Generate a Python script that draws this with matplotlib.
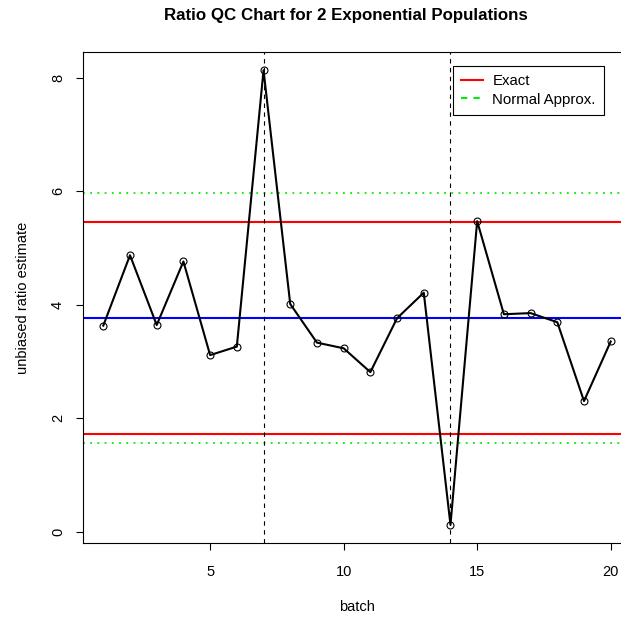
import matplotlib
matplotlib.use("Agg")
import matplotlib.pyplot as plt
from matplotlib.lines import Line2D
import numpy as np

plt.rcParams['font.family'] = ['Liberation Sans', 'DejaVu Sans']

# ratio estimates per batch
batch = np.arange(1, 21)
ratio = [3.63, 4.87, 3.64, 4.76, 3.11, 3.26, 8.13, 4.01, 3.33, 3.23,
         2.81, 3.76, 4.21, 0.12, 5.47, 3.83, 3.85, 3.69, 2.30, 3.35]

center = 3.77
exact_limits = [1.72, 5.45]
normal_limits = [1.57, 5.97]
flagged = [7, 14]

fig = plt.figure(figsize=(6.21, 6.18), dpi=100)
ax = fig.add_axes([83/621, 75/618, 548/621, 491/618])

ax.plot(batch, ratio, color="black", lw=1.5, zorder=3)
ax.plot(batch, ratio, "o", mfc="none", mec="black", ms=5, mew=0.8, zorder=4)

ax.axhline(center, color="blue", lw=1.5)
for v in exact_limits:
    ax.axhline(v, color="red", lw=1.5)
for v in normal_limits:
    ax.axhline(v, color="#00ee00", lw=1.3, ls=(0, (1, 3)))
for b in flagged:
    ax.axvline(b, color="black", lw=0.8, ls=(0, (4, 4)))

# R style 4% padding
xr = batch.max() - batch.min()
ax.set_xlim(batch.min() - 0.04*xr, batch.max() + 0.04*xr)
yr = max(ratio) - min(ratio)
ax.set_ylim(min(ratio) - 0.04*yr, max(ratio) + 0.04*yr)

ax.set_xticks([5, 10, 15, 20])
ax.set_yticks([0, 2, 4, 6, 8])
ax.tick_params(length=5, width=0.8, labelsize=10.5)
ax.tick_params(axis="x", pad=11)
ax.tick_params(axis="y", pad=8)
for lab in ax.get_yticklabels():
    lab.set_rotation(90)
    lab.set_va("center")
for s in ax.spines.values():
    s.set_linewidth(0.8)

ax.set_title("Ratio QC Chart for 2 Exponential Populations",
             fontsize=12.2, fontweight="bold", pad=23, x=0.48)
ax.set_xlabel("batch", fontsize=10.5, labelpad=15)
ax.set_ylabel("unbiased ratio estimate", fontsize=10.5, labelpad=15)

handles = [Line2D([], [], color="red", lw=1.5),
           Line2D([], [], color="#00ee00", lw=1.5, ls=(0, (3, 3)))]
ax.legend(handles, ["Exact", "Normal Approx."], loc="upper right",
          bbox_to_anchor=((604-83)/548, (543-66)/491), borderaxespad=0,
          fancybox=False, edgecolor="black", framealpha=1, fontsize=10.8,
          handlelength=1.5, handletextpad=0.6, borderpad=0.55, labelspacing=0.3)
ax.get_legend().get_frame().set_linewidth(0.8)

fig.savefig("out.png", dpi=100)
